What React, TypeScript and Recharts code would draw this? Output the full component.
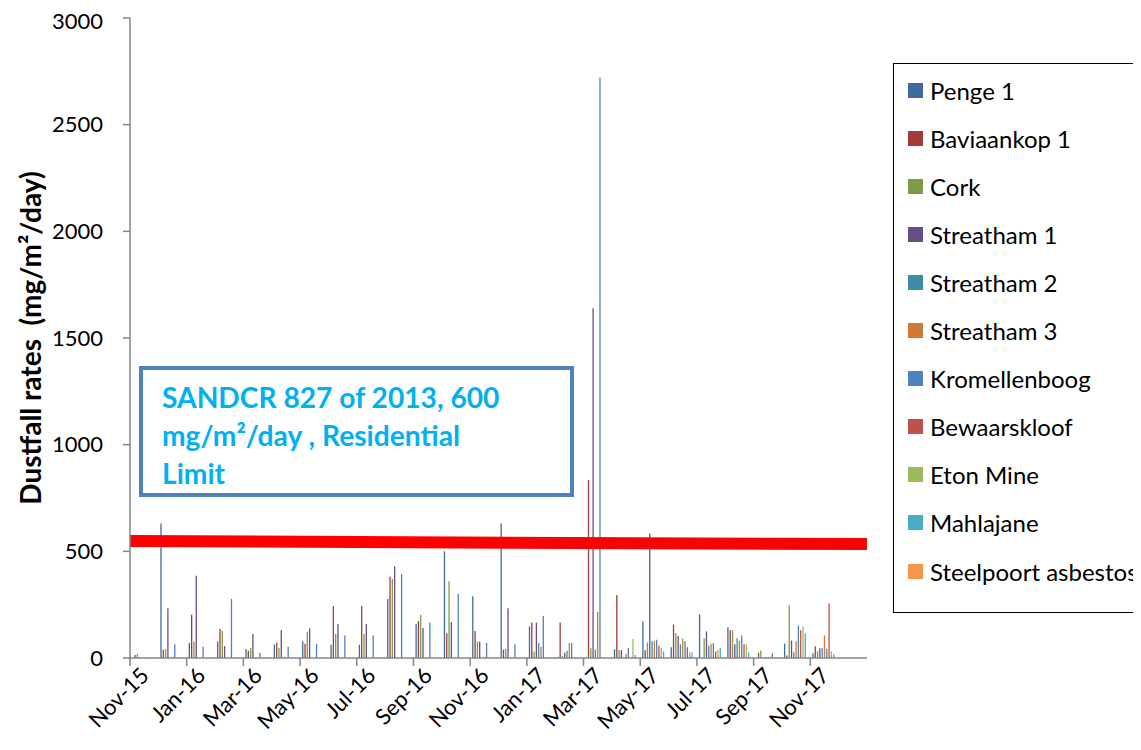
import React from "react";
import { BarChart, Bar, XAxis, YAxis, ReferenceLine } from "recharts";

const months = ['Nov-15', 'Dec-15', 'Jan-16', 'Feb-16', 'Mar-16', 'Apr-16', 'May-16', 'Jun-16', 'Jul-16', 'Aug-16', 'Sep-16', 'Oct-16', 'Nov-16', 'Dec-16', 'Jan-17', 'Feb-17', 'Mar-17', 'Apr-17', 'May-17', 'Jun-17', 'Jul-17', 'Aug-17', 'Sep-17', 'Oct-17', 'Nov-17', 'Dec-17'];

const penge1 = [null, 630, 72, 77, 42, 64, 78, 62, 62, 277, 161, 500, 289, 630, 148, 5, null, 41, 172, 50, 205, 144, null, 68, 22, null];
const baviaankop1 = [14, 39, 203, 136, 34, 72, 67, 244, 244, 381, 173, 116, 127, 39, 166, 166, 834, 295, 36, 157, null, 130, 24, 12, 55, null];
const cork = [19, 42, 77, 128, 47, 47, 123, 112, 112, 370, 203, 360, 77, 42, 31, 9, 46, 37, 73, 117, 92, 131, 35, 246, 32, null];
const streatham1 = [3, 233, 386, 56, 112, 131, 139, 159, 159, 430, 141, 168, 77, 233, 166, 25, 1640, 37, 584, 104, 125, 64, null, 82, 46, null];
const streatham2 = [null, null, null, null, null, null, null, null, null, null, null, null, null, null, 70, 34, 39, null, 78, 64, 58, 92, 3, 27, 46, null];
const streatham3 = [null, null, null, null, null, null, null, null, null, null, null, null, null, null, 53, 70, 216, 20, 78, 92, 66, 80, null, 79, 106, null];
const kromellenboog = [3, 64, 53, 277, 23, 53, 66, 106, 106, 394, 166, 300, 72, 64, 197, 70, 2720, 47, 86, 78, 70, 105, 3, 152, 43, null];
const bewaarskloof = [null, null, null, null, null, null, null, null, null, null, null, null, null, null, null, null, null, null, 57, 50, 30, 64, 21, 130, 256, null];
const etonMine = [null, null, null, null, null, null, null, null, null, null, null, null, null, null, null, null, null, 89, 47, 27, 37, 64, null, 148, 31, null];
const mahlajane = [null, null, null, null, null, null, null, null, null, null, null, null, null, null, null, null, null, 14, 31, 27, 47, 26, null, 115, 17, null];
const steelpoort = months.map(() => null);

const yTicks = [0, 500, 1000, 1500, 2000, 2500, 3000];

// residential limit line as drawn on the original (slightly sloped)
const limitStart = 548;
const limitEnd = 534;

const series = [
  { key: 'penge1', name: 'Penge 1', color: '#3F6A9F', values: penge1 },
  { key: 'baviaankop1', name: 'Baviaankop 1', color: '#9E3D3A', values: baviaankop1 },
  { key: 'cork', name: 'Cork', color: '#7F9A48', values: cork },
  { key: 'streatham1', name: 'Streatham 1', color: '#664F89', values: streatham1 },
  { key: 'streatham2', name: 'Streatham 2', color: '#3B8EA5', values: streatham2 },
  { key: 'streatham3', name: 'Streatham 3', color: '#CF7A38', values: streatham3 },
  { key: 'kromellenboog', name: 'Kromellenboog', color: '#4F81BD', values: kromellenboog },
  { key: 'bewaarskloof', name: 'Bewaarskloof', color: '#C0504D', values: bewaarskloof },
  { key: 'etonMine', name: 'Eton Mine', color: '#9BBB59', values: etonMine },
  { key: 'mahlajane', name: 'Mahlajane', color: '#4BACC6', values: mahlajane },
  { key: 'steelpoort', name: 'Steelpoort asbestos', color: '#F79646', values: steelpoort },
];

const data = months.map((m, i) => {
  const row: any = { month: m, idx: i };
  series.forEach(s => { row[s.key] = s.values[i]; });
  return row;
});

const FONT = 'Lato, "Open Sans", sans-serif';
const PLOT_W = 737;
const BAND = PLOT_W / months.length;

// tick mark sits on the month boundary, label centred on the month
const MonthTick = (props: any) => {
  const { x, y, payload } = props;
  const bx = x - BAND / 2;
  const tx = x + 6;
  const ty = y + 19;
  return (
    <g>
      <line x1={bx} y1={y} x2={bx} y2={y + 8} stroke="#868686" strokeWidth={1.5} />
      <text x={tx} y={ty} textAnchor="end" fontSize={22} fontFamily={FONT} fill="#000"
        transform={`rotate(-45 ${tx} ${ty})`}>{payload.value}</text>
    </g>
  );
};

const YTitle = (props: any) => {
  const { viewBox } = props;
  const cx = 22;
  const cy = viewBox.y + viewBox.height / 2;
  return (
    <text x={cx} y={cy} textAnchor="middle" dominantBaseline="central" fontSize={28} fontWeight={700}
      fontFamily={FONT} fill="#000" transform={`rotate(-90 ${cx} ${cy})`}>
      {'Dustfall rates\u00A0\u00A0(mg/m²/day)'}
    </text>
  );
};

export default function App() {
  return (
    <div style={{ position: 'relative', width: 1133, height: 742, overflow: 'hidden', fontFamily: FONT, background: '#fff' }}>
      <BarChart width={1133} height={742} data={data} barGap={1}
        margin={{ top: 10, right: 274, bottom: 0, left: 0 }}>
        <XAxis dataKey="month" interval={1} height={92} tickSize={0} tickMargin={0}
          tick={<MonthTick />} axisLine={{ stroke: '#868686', strokeWidth: 1.5 }} />
        <XAxis xAxisId="top" dataKey="month" orientation="top" height={0} tick={false} tickLine={false}
          axisLine={{ stroke: '#000', strokeWidth: 2 }} />
        <XAxis xAxisId="num" dataKey="idx" type="number" domain={[0, months.length]} allowDataOverflow hide />
        <YAxis domain={[0, 3000]} ticks={yTicks} width={122} tickSize={7} tickMargin={20}
          tick={{ fontSize: 22, fill: '#000', fontFamily: FONT }}
          tickLine={{ stroke: '#868686', strokeWidth: 1.5 }} axisLine={{ stroke: '#868686', strokeWidth: 1.5 }}
          label={<YTitle />} />
        <YAxis yAxisId="right" orientation="right" width={0} domain={[0, 3000]} tick={false} tickLine={false}
          axisLine={{ stroke: '#000', strokeWidth: 2.5 }} />
        {series.map(s => (
          <Bar key={s.key} dataKey={s.key} name={s.name} fill={s.color} barSize={1.3} isAnimationActive={false} />
        ))}
        <ReferenceLine xAxisId="num" ifOverflow="visible"
          segment={[{ x: 0, y: limitStart }, { x: months.length, y: limitEnd }]}
          stroke="#FF0000" strokeWidth={12} />
      </BarChart>

      <div style={{
        position: 'absolute', left: 131, top: 358, width: 408, height: 115, border: '4px solid #4F81BD',
        background: '#fff', color: '#00B0F0', fontWeight: 700, fontSize: 28.2, lineHeight: '38px',
        padding: '8px 0 0 19px', boxSizing: 'content-box', whiteSpace: 'nowrap'
      }}>
        SANDCR 827 of 2013, 600<br />mg/m²/day , Residential<br />Limit
      </div>

      <div style={{
        position: 'absolute', left: 885, top: 55, width: 280, height: 550, border: '1px solid #000',
        background: '#fff', boxSizing: 'border-box'
      }}>
        {series.map((s, i) => (
          <div key={s.key} style={{
            position: 'absolute', left: 14, top: 26 + i * 48.1 - 14, height: 28, display: 'flex',
            alignItems: 'center', fontSize: 24, color: '#000', whiteSpace: 'nowrap'
          }}>
            <span style={{ display: 'inline-block', width: 15, height: 15, background: s.color, marginRight: 7 }} />
            {s.name}
          </div>
        ))}
      </div>
    </div>
  );
}
